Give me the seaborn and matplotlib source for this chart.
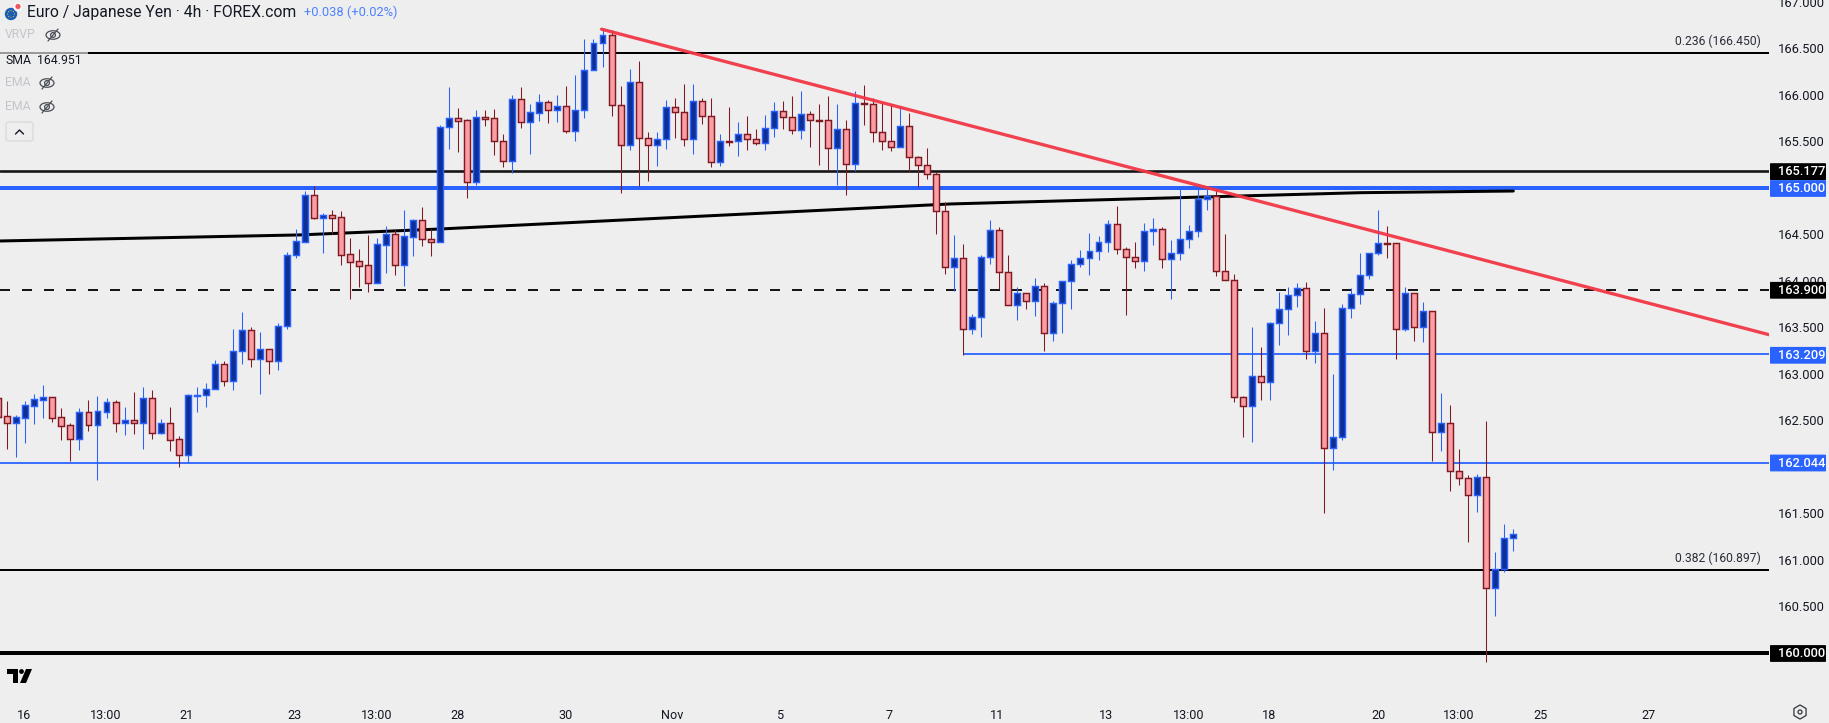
import matplotlib
matplotlib.use("Agg")
import matplotlib.pyplot as plt
from matplotlib.patches import Rectangle, FancyBboxPatch, Circle, Ellipse, Polygon, RegularPolygon
import numpy as np
import pandas as pd
import seaborn as sns

opens = [162.737,162.544,162.476,162.529,162.658,162.723,162.748,162.533,162.447,162.304,
         162.587,162.454,162.594,162.694,162.476,162.501,162.476,162.737,162.368,162.468,
         162.296,162.132,162.765,162.769,162.834,163.103,162.920,163.242,163.468,163.156,
         163.264,163.135,163.511,164.274,164.421,164.918,164.678,164.703,164.682,164.289,
         164.210,164.167,163.980,164.389,164.499,164.174,164.474,164.650,164.445,164.421,
         165.649,165.746,165.725,165.065,165.757,165.746,165.499,165.291,165.950,165.710,
         165.807,165.918,165.839,165.875,165.613,165.832,166.262,166.552,166.638,165.886,
         165.456,166.133,165.531,165.456,165.520,165.864,165.811,165.520,165.929,165.768,
         165.273,165.499,165.499,165.574,165.520,165.477,165.639,165.821,165.757,165.617,
         165.789,165.725,165.725,165.431,165.628,165.259,165.907,165.896,165.596,165.499,
         165.434,165.660,165.327,165.241,165.144,164.747,164.145,164.242,163.479,163.608,
         164.253,164.543,164.092,163.737,163.866,163.780,163.941,163.436,163.758,163.995,
         164.178,164.242,164.317,164.414,164.607,164.339,164.253,164.210,164.532,164.554,
         164.231,164.296,164.446,164.532,164.876,164.912,164.102,164.006,162.748,162.651,
         162.974,162.909,163.543,163.694,163.844,163.919,163.249,163.436,162.207,162.318,
         163.705,163.855,164.059,164.296,164.403,164.403,163.479,163.866,163.500,163.672,
         162.372,162.468,161.959,161.877,161.694,161.888,160.702,160.899,161.232]
highs = [162.737,162.705,162.554,162.705,162.784,162.880,162.748,162.633,162.468,162.633,
         162.719,162.762,162.737,162.719,162.640,162.802,162.859,162.827,162.511,162.640,
         162.329,162.784,162.859,162.898,163.146,163.135,163.482,163.665,163.500,163.450,
         163.264,163.543,164.306,164.560,164.965,165.019,164.725,164.757,164.750,164.456,
         164.342,164.492,164.456,164.589,164.546,164.761,164.664,164.789,164.560,165.674,
         166.079,165.853,165.735,165.832,165.832,165.843,165.574,165.993,166.079,165.896,
         166.008,165.943,165.997,166.090,166.212,166.595,166.595,166.703,166.692,166.090,
         166.273,166.362,165.596,165.596,165.939,165.965,166.115,166.115,165.961,165.961,
         165.574,165.864,165.707,165.768,165.628,165.778,165.918,165.929,165.982,166.036,
         165.821,165.896,165.982,165.896,165.725,166.036,166.101,165.961,165.907,165.896,
         165.875,165.800,165.341,165.423,165.169,164.844,164.493,164.393,163.644,164.274,
         164.654,164.575,164.274,163.930,163.866,164.027,163.973,163.780,163.995,164.221,
         164.328,164.514,164.478,164.654,164.805,164.360,164.418,164.618,164.672,164.575,
         164.436,164.994,164.600,165.041,164.994,164.984,164.500,164.070,162.759,163.504,
         163.289,163.554,163.880,163.930,163.973,163.984,163.565,163.705,163.000,163.747,
         163.920,164.299,164.296,164.762,164.590,164.403,163.930,163.866,163.769,163.672,
         162.794,162.665,162.189,161.909,161.920,162.493,161.085,161.386,161.332]
lows = [162.540,162.192,162.107,162.257,162.461,162.526,162.486,162.289,162.063,162.182,
        162.386,161.859,162.526,162.375,162.343,162.354,162.192,162.300,162.354,162.171,
        162.000,162.046,162.590,162.644,162.834,162.870,162.827,163.106,163.074,162.784,
        162.999,163.042,163.482,164.246,164.421,164.668,164.303,164.499,164.170,163.805,
        163.934,163.880,163.980,164.084,164.063,163.945,164.267,164.375,164.267,164.421,
        165.416,165.384,164.890,165.029,165.664,165.352,165.223,165.158,165.642,165.363,
        165.717,165.696,165.707,165.588,165.502,165.750,166.262,166.298,165.771,164.943,
        165.406,165.019,165.072,165.234,165.416,165.535,165.449,165.363,165.685,165.223,
        165.234,165.449,165.341,165.406,165.459,165.406,165.545,165.631,165.577,165.524,
        165.438,165.244,165.191,165.029,164.922,165.180,165.674,165.492,165.406,165.395,
        165.434,165.169,165.008,165.094,164.503,164.074,163.891,163.203,163.429,163.396,
        164.181,163.912,163.737,163.579,163.697,163.622,163.246,163.353,163.439,163.697,
        164.149,164.063,164.224,164.310,164.289,163.633,164.138,164.106,164.385,164.138,
        163.805,164.224,164.353,164.471,164.762,164.052,164.005,162.698,162.321,162.271,
        162.719,162.719,163.310,163.418,163.719,163.160,163.117,161.505,161.967,162.289,
        163.601,163.751,164.020,164.278,164.246,163.160,163.461,163.353,163.343,162.063,
        162.171,161.741,161.805,161.193,161.515,159.906,160.397,160.870,161.096]
closes = [162.540,162.476,162.533,162.662,162.726,162.748,162.529,162.443,162.304,162.587,
          162.454,162.597,162.694,162.476,162.501,162.476,162.737,162.368,162.468,162.293,
          162.132,162.769,162.770,162.834,163.103,162.920,163.242,163.468,163.156,163.264,
          163.135,163.511,164.274,164.425,164.918,164.678,164.703,164.678,164.281,164.206,
          164.163,163.980,164.392,164.499,164.174,164.478,164.650,164.453,164.421,165.649,
          165.746,165.721,165.065,165.757,165.742,165.499,165.291,165.950,165.710,165.811,
          165.918,165.839,165.875,165.613,165.832,166.262,166.552,166.638,165.886,165.456,
          166.133,165.531,165.456,165.520,165.864,165.811,165.520,165.929,165.768,165.273,
          165.499,165.495,165.574,165.520,165.477,165.639,165.821,165.757,165.617,165.789,
          165.725,165.721,165.431,165.628,165.259,165.907,165.896,165.596,165.499,165.434,
          165.660,165.327,165.241,165.144,164.747,164.145,164.242,163.479,163.608,164.253,
          164.543,164.092,163.737,163.866,163.780,163.941,163.436,163.758,163.995,164.178,
          164.242,164.317,164.414,164.607,164.339,164.253,164.210,164.532,164.554,164.231,
          164.296,164.446,164.532,164.876,164.908,164.102,164.006,162.748,162.651,162.974,
          162.909,163.543,163.694,163.844,163.919,163.249,163.436,162.207,162.318,163.705,
          163.855,164.059,164.296,164.403,164.400,163.479,163.866,163.500,163.672,162.372,
          162.468,161.959,161.877,161.694,161.888,160.702,160.899,161.232,161.275]

sma_x = [0.189, 33.4, 49, 101.2, 105.6, 151, 168]
sma_y = [164.428, 164.493, 164.557, 164.805, 164.826, 164.947, 164.965]
trend_x = [66.9, 196.35]
trend_y = [166.704, 163.421]

x_tick_pos = [2.9, 11.94, 20.9, 32.9, 41.99, 50.9, 62.95, 74.7, 86.7, 98.8, 110.7, 122.8,
              132.0, 140.9, 153.0, 161.96, 171.0, 183.0]
x_tick_labels = ['16', '13:00', '21', '23', '13:00', '28', '30', 'Nov', '5', '7', '11', '13',
                 '13:00', '18', '20', '13:00', '25', '27']
y_ticks = [160.5, 161.0, 161.5, 162.5, 163.0, 163.5, 164.0, 164.5, 165.5, 166.0, 166.5, 167.0]
y_tick_labels = [f'{v:.3f}' for v in y_ticks]

FONT = ['Roboto', 'DejaVu Sans']
BG = '#eeeeee'
BLUE = '#2962ff'
UP_FILL = '#0d2f96'
DN_FILL = '#fa9ea3'
DN_EDGE = '#801922'
INK = '#131722'

sns.set_theme(style='white', rc={'axes.facecolor': BG, 'figure.facecolor': BG})
plt.rcParams['font.family'] = FONT

W, H = 1829, 723
fig = plt.figure(figsize=(W / 100, H / 100), dpi=100, facecolor=BG)
ax = fig.add_axes([0, 29 / H, 1769 / W, 694 / H])
ax.set_facecolor(BG)

df = pd.DataFrame({'o': opens, 'h': highs, 'l': lows, 'c': closes})
df['i'] = df.index
df['up'] = df.c >= df.o

ax.set_xlim(0.189, 196.35)
ax.set_ylim(159.559, 167.018)

# horizontal levels
px = 0.72
ax.axhline(166.450, color='#000000', lw=2 * px, zorder=2)
ax.axhline(165.177, color='#131313', lw=2.6 * px, zorder=2)
ax.axhline(165.000, color=BLUE, lw=4 * px, zorder=2)
ax.axhline(163.900, color='#161616', lw=2 * px, zorder=2, dashes=(5.0, 6.0), dash_capstyle='butt')
ax.hlines(163.209, 107, 196.35, color=BLUE, lw=1.8 * px, zorder=2)
ax.axhline(162.044, color=BLUE, lw=1.8 * px, zorder=2)
ax.axhline(160.897, color='#000000', lw=2 * px, zorder=2)
ax.axhline(160.000, color='#000000', lw=4 * px, zorder=2)

# long moving average, drawn behind candles
sns.lineplot(x=sma_x, y=sma_y, ax=ax, color='#000000', lw=3 * px, zorder=3, legend=False)

# candles
for up, wick_col, fill, edge in [(True, BLUE, UP_FILL, BLUE), (False, DN_EDGE, DN_FILL, DN_EDGE)]:
    d = df[df.up == up]
    ax.vlines(d.i, d.l, d.h, color=wick_col, lw=1.05 * px, zorder=4)
    ax.bar(d.i, (d.c - d.o).abs(), bottom=d[['o', 'c']].min(axis=1), width=0.66,
           color=fill, edgecolor=edge, linewidth=1.45 * px, zorder=5)

# trend line above candles
sns.lineplot(x=trend_x, y=trend_y, ax=ax, color='#f23645', lw=3.3 * px, zorder=6, alpha=0.95, legend=False)

# axes look
for s in ax.spines.values():
    s.set_visible(False)
ax.yaxis.tick_right()
ax.set_xticks(x_tick_pos)
ax.set_xticklabels(x_tick_labels)
ax.set_yticks(y_ticks)
ax.set_yticklabels(y_tick_labels)
ax.tick_params(axis='x', length=0, pad=11, labelsize=9.1, labelcolor=INK)
ax.tick_params(axis='y', length=0, pad=6.4, labelsize=9.3, labelcolor=INK)
ax.grid(False)
ax.set_xlabel('')
ax.set_ylabel('')

# overlay in figure pixels for the chrome
ov = fig.add_axes([0, 0, 1, 1], facecolor='none')
ov.set_xlim(0, W)
ov.set_ylim(H, 0)
ov.axis('off')

def txt(x, y, s, size=9.1, color=INK, ha='left', **kw):
    ov.text(x, y, s, fontsize=size, color=color, ha=ha, va='center', family=FONT, **kw)

def eye(x, y, color='#4a4d57'):
    ov.add_patch(Ellipse((x, y), 14, 8.5, fill=False, ec=color, lw=0.9))
    ov.add_patch(Circle((x, y), 2.4, fill=False, ec=color, lw=0.9))
    ov.plot([x - 5, x + 5], [y + 6, y - 6], color=color, lw=0.9)

ov.add_patch(Rectangle((0, 50), 88, 20, fc=BG, ec='none', alpha=0.65))

# header
ov.add_patch(Circle((11, 14), 6.2, fc='#1a5fb4', ec='none'))
ov.add_patch(Circle((18, 7), 4.6, fc='#f7f7f7', ec='none'))
ov.add_patch(Circle((18, 6.5), 2.6, fc='#f0555a', ec='none'))
for a in np.linspace(0, 2 * np.pi, 8, endpoint=False):
    ov.add_patch(Circle((11 + 3.4 * np.cos(a), 14 + 3.4 * np.sin(a)), 0.55, fc='#f5c542', ec='none'))
txt(27, 12, 'Euro / Japanese Yen · 4h · FOREX.com', size=11.35)
txt(304, 12, '+0.038 (+0.02%)', size=9.3, color='#4d82ff')
txt(5, 35, 'VRVP', size=8.8, color='#c3c5cc')
eye(53, 35)
txt(5, 60, 'SMA', size=8.8)
txt(37, 60, '164.951', size=8.8)
txt(5, 83, 'EMA', size=8.8, color='#c3c5cc')
eye(47, 83)
txt(5, 107, 'EMA', size=8.8, color='#c3c5cc')
eye(47, 107)
ov.add_patch(FancyBboxPatch((6, 122), 27, 19, boxstyle='round,pad=0,rounding_size=2.5',
                            fc=BG, ec='#d5d6da', lw=0.8))
ov.plot([15.5, 19.5, 23.5], [134, 130, 134], color=INK, lw=1.0)

# fib notes
txt(1761, 41, '0.236 (166.450)', size=8.7, ha='right', color='#2a2e39')
txt(1761, 558, '0.382 (160.897)', size=8.7, ha='right', color='#2a2e39')

# price badges
for y, label, col in [(171.6, '165.177', '#000000'), (188.5, '165.000', BLUE),
                      (290.3, '163.900', '#000000'), (355.3, '163.209', BLUE),
                      (463, '162.044', BLUE), (653.5, '160.000', '#000000')]:
    ov.add_patch(FancyBboxPatch((1770, y - 8.4), 56, 16.8, boxstyle='round,pad=0,rounding_size=0.8',
                                fc=col, ec='none', zorder=8))
    ov.text(1778, y + 0.3, label, color='white', fontsize=9.3, fontweight='medium', va='center',
            ha='left', family=FONT, zorder=9)

# TradingView mark
ov.add_patch(Polygon([(7, 669), (18, 669), (18, 683), (13, 683), (13, 674), (7, 674)], fc='#000000', ec='none'))
ov.add_patch(Circle((21.5, 671.5), 2.4, fc='#000000', ec='none'))
ov.add_patch(Polygon([(26, 669), (32, 669), (26, 683), (20, 683)], fc='#000000', ec='none'))

# settings button
ov.add_patch(RegularPolygon((1800, 712), 6, radius=7, fill=False, ec='#30343f', lw=0.9))
ov.add_patch(Circle((1800, 712), 2, fill=False, ec='#30343f', lw=0.9))

fig.savefig('out.png', dpi=100, facecolor=BG)
